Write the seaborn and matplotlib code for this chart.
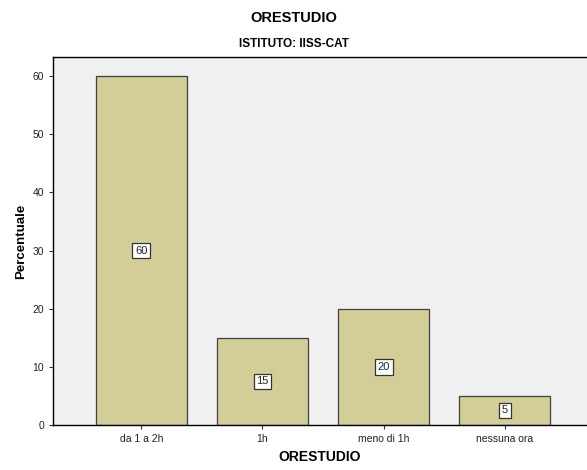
import matplotlib
matplotlib.use("Agg")
import matplotlib.pyplot as plt
import seaborn as sns
import pandas as pd

categorie = ["da 1 a 2h", "1h", "meno di 1h", "nessuna ora"]
percentuali = [60, 15, 20, 5]

df = pd.DataFrame({"ORESTUDIO": categorie, "Percentuale": percentuali})

sns.set_style("ticks")
plt.rcParams['font.family'] = ['Liberation Sans', 'DejaVu Sans']
plt.rcParams['text.color'] = 'black'
plt.rcParams['axes.labelcolor'] = 'black'
plt.rcParams['xtick.color'] = 'black'
plt.rcParams['ytick.color'] = 'black'

fig = plt.figure(figsize=(5.87, 4.70), dpi=100)
ax = fig.add_axes([0.0903, 0.0957, 0.9097, 0.7830])
ax.set_facecolor("#F0F0F0")

sns.barplot(data=df, x="ORESTUDIO", y="Percentuale", color="#D3CE97",
            width=0.75, edgecolor="#404040", linewidth=0.9, saturation=1, ax=ax)

for i, v in enumerate(percentuali):
    ax.text(i, v / 2, str(v), ha="center", va="center", fontsize=8, color="#222222",
            bbox=dict(boxstyle="square,pad=0.25", fc="white", ec="#333333", lw=0.9))

ax.set_xlim(-0.73, 3.68)
ax.set_ylim(0, 63.3)
ax.set_yticks([0, 10, 20, 30, 40, 50, 60])
ax.tick_params(axis="both", labelsize=7.5, length=3, width=0.8, color="#333333",
               labelcolor="#222222")
ax.set_xlabel("ORESTUDIO", fontsize=10, fontweight="bold")
ax.set_ylabel("Percentuale", fontsize=9.5, fontweight="bold")

for s in ["left", "bottom", "top"]:
    ax.spines[s].set_visible(True)
    ax.spines[s].set_color("black")
    ax.spines[s].set_linewidth(1)
ax.spines["right"].set_visible(False)

fig.text(0.5, 0.962, "ORESTUDIO", ha="center", va="center", fontsize=10.5, fontweight="bold")
fig.text(0.5, 0.907, "ISTITUTO: IISS-CAT", ha="center", va="center", fontsize=8.5, fontweight="bold")

fig.savefig("out.png", dpi=100)
